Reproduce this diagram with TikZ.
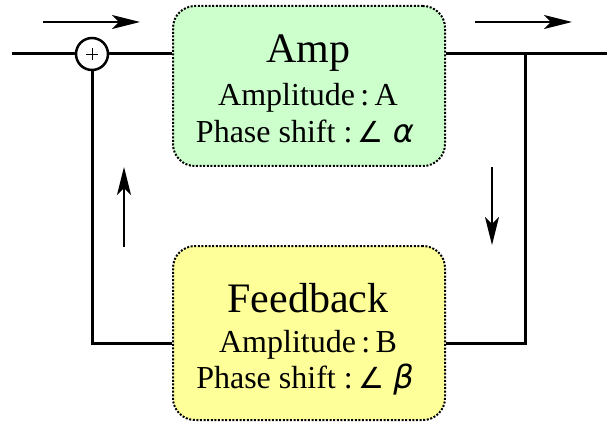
\documentclass[tikz,border=0pt]{standalone}
\usepackage{fontspec}
\setmainfont{Liberation Serif}
\newfontfamily\symfont{DejaVu Sans}
\usetikzlibrary{arrows.meta}
\definecolor{ampgreen}{RGB}{204,255,204}
\definecolor{fbyellow}{RGB}{255,255,153}

\tikzset{
  block/.style={draw=black, line width=2pt, dash pattern=on 2pt off 1.6pt,
    rounded corners=22pt, minimum width=272pt, inner sep=0pt},
  wire/.style={line width=3pt},
  flow/.style={line width=1.5pt, -{Stealth[length=28pt,width=14pt,inset=7pt]}},
  title/.style={font=\fontsize{42}{42}\selectfont, anchor=base},
  detail/.style={font=\fontsize{32}{32}\selectfont, anchor=base},
  adder/.style={circle, draw, line width=2.5pt, fill=white, minimum size=32pt, inner sep=0pt,
    path picture={\draw[line width=0.8pt]
      ([xshift=-6pt]path picture bounding box.center) -- ([xshift=6pt]path picture bounding box.center)
      ([yshift=-6pt]path picture bounding box.center) -- ([yshift=6pt]path picture bounding box.center);}},
}

\begin{document}
\begin{tikzpicture}[x=1pt, y=-1pt]
\useasboundingbox (0,0) rectangle (607,422);

% Ends of the signal path
\coordinate (in) at (12,54);
\coordinate (out) at (607,54);
\coordinate (tap) at (525,54);

% Blocks
\node[block, fill=ampgreen, minimum height=160pt] (amp) at (309,86) {};
\node[block, fill=fbyellow, minimum height=174pt] (fb) at (309,333) {};
\coordinate (fbline) at (309,343);

% Wires
\draw[wire] (in) -- (92,54) coordinate (sumpos);
\draw[wire] (sumpos) -- (sumpos -| amp.west);
\draw[wire] (amp.east |- tap) -- (out);
\draw[wire] (tap) |- (fb.east |- fbline);
\draw[wire] (fb.west |- fbline) -| (sumpos);

% Adder
\node[adder] (sum) at (sumpos) {};

% Block texts
\node[title] (ampname) at (308,63) {Amp};
\node[detail] (ampgain) at (308,106) {Amplitude\,:\,A};
\node[detail] (ampphase) at (305,143) {Phase shift :\,{\symfont\fontsize{29}{29}\selectfont ∠\ \itshape\fontsize{32}{32}\selectfont α}};

\node[title] (fbname) at (308,312) {Feedback};
\node[detail] (fbgain) at (308,352) {Amplitude\,:\,B};
\node[detail] (fbphase) at (305,388) {Phase shift :\,{\symfont\fontsize{29}{29}\selectfont ∠\ \itshape\fontsize{32}{32}\selectfont β}};

% Direction marks
\coordinate (f1a) at (43,22);  \coordinate (f1b) at (140,22);
\coordinate (f2a) at (475,22); \coordinate (f2b) at (572,22);
\coordinate (f3a) at (492,167); \coordinate (f3b) at (492,245);
\coordinate (f4a) at (124,247); \coordinate (f4b) at (124,167);
\draw[flow] (f1a) -- (f1b);
\draw[flow] (f2a) -- (f2b);
\draw[flow] (f3a) -- (f3b);
\draw[flow] (f4a) -- (f4b);
\end{tikzpicture}
\end{document}
